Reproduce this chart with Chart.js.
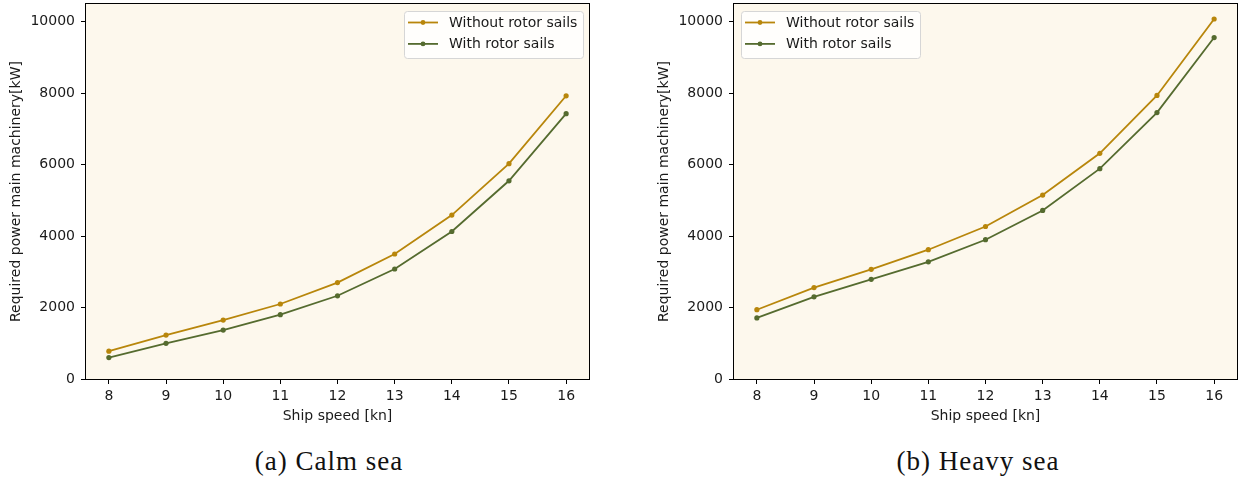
<!DOCTYPE html>
<html>
<head>
<meta charset="utf-8">
<script src="https://cdn.jsdelivr.net/npm/chart.js@4/dist/chart.umd.min.js"></script>
<style>
  html, body { margin: 0; padding: 0; background: #fff; width: 1244px; height: 481px; overflow: hidden; }
  .panel { position: absolute; top: 0; height: 430px; }
  .caption {
    position: absolute; top: 446px; width: 320px; text-align: center;
    font-family: "Liberation Serif", "DejaVu Serif", serif; font-size: 27px;
    letter-spacing: 1px; line-height: 30px; color: #111;
  }
</style>
</head>
<body>
<div class="panel" style="left:0px;width:600px"><canvas id="calm"></canvas></div>
<div class="panel" style="left:648px;width:596px"><canvas id="heavy"></canvas></div>
<div class="caption" style="left:169px">(a) Calm sea</div>
<div class="caption" style="left:818px">(b) Heavy sea</div>
<script>
// Ship speed in knots
const speeds = [8, 9, 10, 11, 12, 13, 14, 15, 16];
const speedTicks = [8, 9, 10, 11, 12, 13, 14, 15, 16];
const powerTicks = [0, 2000, 4000, 6000, 8000, 10000];

// Required main-engine power [kW], calm sea
const calmWithout = [780, 1230, 1650, 2100, 2700, 3500, 4590, 6030, 7930];
const calmWith    = [600, 1000, 1370, 1800, 2330, 3080, 4130, 5550, 7430];

// Required main-engine power [kW], heavy sea
const heavyWithout = [1940, 2560, 3070, 3620, 4270, 5150, 6320, 7940, 10080];
const heavyWith    = [1710, 2300, 2790, 3280, 3900, 4720, 5890, 7460, 9560];

const seriesLabels = ['Without rotor sails', 'With rotor sails'];
const COLOR_WITHOUT = '#b8860b';
const COLOR_WITH = '#556b2f';
const PLOT_BG = '#fdf8ed';
const TEXT = '#1a1a1a';
const FONT = '"DejaVu Sans", sans-serif';

Chart.defaults.font.family = FONT;
Chart.defaults.font.size = 14;
Chart.defaults.color = TEXT;

// Fills the plot background and draws the four-sided frame
const framePlugin = {
  id: 'frame',
  beforeDatasetsDraw(chart) {
    const { ctx, chartArea: a } = chart;
    ctx.save();
    ctx.fillStyle = PLOT_BG;
    ctx.fillRect(a.left, a.top, a.right - a.left, a.bottom - a.top);
    ctx.restore();
  },
  afterDatasetsDraw(chart) {
    const { ctx, chartArea: a } = chart;
    ctx.save();
    ctx.strokeStyle = '#000';
    ctx.lineWidth = 1;
    ctx.strokeRect(a.left - 0.5, a.top - 0.5, a.right - a.left + 1, a.bottom - a.top + 1);
    ctx.restore();
  }
};

// Boxed legend placed inside the plot area
const boxLegendPlugin = {
  id: 'boxLegend',
  afterDraw(chart, args, opts) {
    const { ctx, chartArea: a } = chart;
    const sets = chart.data.datasets;
    ctx.save();
    ctx.font = '14px ' + FONT;
    const textW = Math.max(...sets.map(d => ctx.measureText(d.label).width));
    const w = Math.round(45 + textW + 6), h = 47;
    const x = opts.side === 'right' ? Math.round(a.right - 6 - w) : Math.round(a.left + 7);
    const y = Math.round(a.top + 7);
    ctx.beginPath();
    ctx.roundRect(x + 0.5, y + 0.5, w, h, 3);
    ctx.fillStyle = 'rgba(255,255,255,0.8)';
    ctx.fill();
    ctx.strokeStyle = '#d6d6d6';
    ctx.lineWidth = 1;
    ctx.stroke();
    sets.forEach((d, i) => {
      const cy = y + 11.5 + i * 21.4;
      ctx.strokeStyle = d.borderColor;
      ctx.lineWidth = 1.8;
      ctx.beginPath();
      ctx.moveTo(x + 4, cy);
      ctx.lineTo(x + 34, cy);
      ctx.stroke();
      ctx.fillStyle = d.borderColor;
      ctx.beginPath();
      ctx.arc(x + 19, cy, 2.4, 0, Math.PI * 2);
      ctx.fill();
      ctx.fillStyle = TEXT;
      ctx.textBaseline = 'middle';
      ctx.textAlign = 'left';
      ctx.fillText(d.label, x + 45, cy + 0.5);
    });
    ctx.restore();
  }
};

function toPoints(values) {
  return values.map((v, i) => ({ x: speeds[i], y: v }));
}

function makeChart(id, without, withSails, legendSide, padRight) {
  const line = (label, values, color) => ({
    label,
    data: toPoints(values),
    borderColor: color,
    backgroundColor: color,
    borderWidth: 1.8,
    pointRadius: 2.6,
    pointBorderWidth: 0,
    pointHoverRadius: 2.6,
    tension: 0
  });
  return new Chart(document.getElementById(id), {
    type: 'line',
    data: {
      datasets: [
        line(seriesLabels[0], without, COLOR_WITHOUT),
        line(seriesLabels[1], withSails, COLOR_WITH)
      ]
    },
    options: {
      responsive: true,
      maintainAspectRatio: false,
      animation: false,
      events: [],
      layout: { padding: { top: 4, right: padRight, bottom: 0, left: 0 } },
      plugins: {
        legend: { display: false },
        tooltip: { enabled: false },
        boxLegend: { side: legendSide }
      },
      scales: {
        x: {
          type: 'linear',
          min: 7.6,
          max: 16.4,
          afterBuildTicks: s => { s.ticks = speedTicks.map(v => ({ value: v })); },
          afterFit: s => { s.height = 51; s.paddingLeft = 0; s.paddingRight = 0; },
          grid: { drawOnChartArea: false, drawTicks: true, tickLength: 5, color: '#000', tickWidth: 1 },
          border: { display: false },
          ticks: { padding: 4, color: TEXT, font: { size: 14 }, callback: v => String(v), maxRotation: 0 },
          title: { display: true, text: 'Ship speed [kn]', color: TEXT, font: { size: 14 }, padding: { top: 0, bottom: 5 } }
        },
        y: {
          type: 'linear',
          min: 0,
          max: 10500,
          afterBuildTicks: s => { s.ticks = powerTicks.map(v => ({ value: v })); },
          afterFit: s => { s.width = 86; s.paddingTop = 0; s.paddingBottom = 0; },
          grid: { drawOnChartArea: false, drawTicks: true, tickLength: 5, color: '#000', tickWidth: 1 },
          border: { display: false },
          ticks: { padding: 6, color: TEXT, font: { size: 14 }, callback: v => String(v) },
          title: { display: true, text: 'Required power main machinery[kW]', color: TEXT, font: { size: 14 }, padding: { top: 8, bottom: 0 } }
        }
      }
    },
    plugins: [framePlugin, boxLegendPlugin]
  });
}

makeChart('calm', calmWithout, calmWith, 'right', 11);
makeChart('heavy', heavyWithout, heavyWith, 'left', 7);
</script>
</body>
</html>
